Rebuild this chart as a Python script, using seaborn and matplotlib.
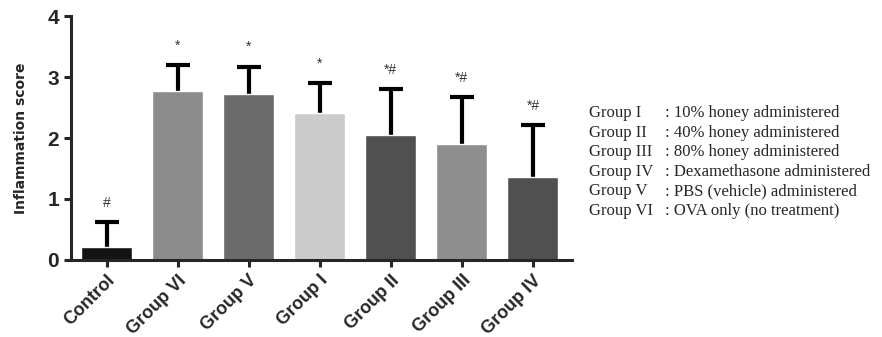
import numpy as np
import pandas as pd
import matplotlib.pyplot as plt
import seaborn as sns

groups = ['Control', 'Group VI', 'Group V', 'Group I', 'Group II', 'Group III', 'Group IV']
means = [0.21, 2.77, 2.72, 2.41, 2.05, 1.90, 1.36]
sds = [0.41, 0.43, 0.45, 0.49, 0.75, 0.77, 0.85]
marks = ['#', '*', '*', '*', '*#', '*#', '*#']
colors = ['#141414', '#8c8c8c', '#6b6b6b', '#cccccc', '#505050', '#8e8e8e', '#505050']
legend_names = ['Group I', 'Group II', 'Group III', 'Group IV', 'Group V', 'Group VI']
legend_desc = [': 10% honey administered', ': 40% honey administered', ': 80% honey administered',
               ': Dexamethasone administered', ': PBS (vehicle) administered', ': OVA only (no treatment)']

df = pd.DataFrame({'group': groups, 'score': means})

sns.set_style('ticks')
plt.rcParams['font.family'] = ['Liberation Sans', 'DejaVu Sans']

fig = plt.figure(figsize=(8.82, 3.37), dpi=100)
ax = fig.add_axes([0.0805, 0.2285, 0.568, 0.724])

sns.barplot(data=df, x='group', y='score', hue='group', order=groups, hue_order=groups,
            palette=colors, width=0.72, legend=False, saturation=1, ax=ax, zorder=2)
x = np.arange(len(groups))
eb = ax.errorbar(x, means, yerr=[np.zeros(len(sds)), sds], fmt='none', ecolor='black',
                 elinewidth=3, capsize=8.5, capthick=3, zorder=1)
# only the upper cap, like the original
eb[1][0].set_visible(False)

for xi, m, s, t in zip(x, means, sds, marks):
    ax.text(xi, m + s + 0.32, t, ha='center', va='center', fontsize=10, color='#333333')

ax.set_xlim(-0.5, 6.55)
ax.set_ylim(0, 4)
ax.set_yticks([0, 1, 2, 3, 4])
ax.set_xlabel('')
ax.set_ylabel('Inflammation score', family=['Liberation Sans Narrow', 'DejaVu Sans'],
              fontweight='bold', fontsize=10, labelpad=14)
sns.despine(ax=ax)
for sp in ['left', 'bottom']:
    ax.spines[sp].set_linewidth(2.2)
ax.tick_params(axis='both', width=2.2, length=5)
for lbl in ax.get_yticklabels():
    lbl.set_fontweight('bold')
    lbl.set_fontsize(15)
for lbl in ax.get_xticklabels():
    lbl.set_fontweight('bold')
    lbl.set_fontsize(13)
    lbl.set_rotation(45)
    lbl.set_ha('right')
    lbl.set_rotation_mode('anchor')

for i, (n, d) in enumerate(zip(legend_names, legend_desc)):
    y = 1 - (113 + i * 19.6) / 337
    fig.text(589 / 882, y, n, family=['Liberation Serif'], fontsize=12, va='center', ha='left')
    fig.text(665 / 882, y, d, family=['Liberation Serif'], fontsize=12, va='center', ha='left')

fig.savefig('out.png', dpi=100)
